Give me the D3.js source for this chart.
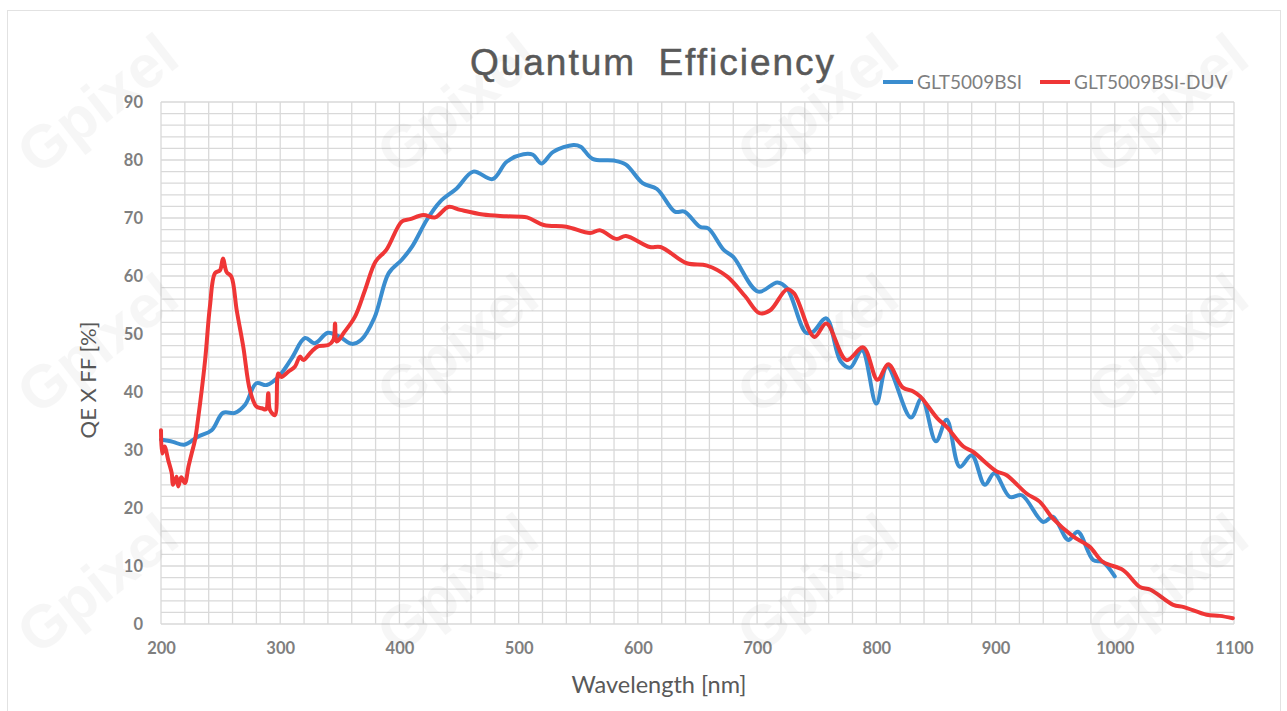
<!DOCTYPE html>
<html>
<head>
<meta charset="utf-8">
<script src="https://cdn.jsdelivr.net/npm/d3@7"></script>
<style>
  body { margin: 0; background: #fff; }
  svg { display: block; }
</style>
</head>
<body>
<div class="canvas"></div>
<script>
// wavelength [nm] and QE x FF [%]
const bsiNm = [200, 210, 219.5, 231, 242.5, 252, 262, 270.5, 280, 288.7, 298.4, 309.6, 320.8, 329, 340, 350, 360, 368,
  379, 391, 402, 411, 423, 434, 448, 462, 478, 490, 504, 512, 519, 529, 546, 552, 562, 580, 590, 604, 616, 631, 639,
  652, 659, 672, 680, 701, 717, 725, 741, 747, 758, 770, 778, 788, 800, 809, 829, 838, 850, 859, 870, 880, 891, 899,
  912, 922, 940, 948, 961, 969, 982, 990, 1000];
const bsiQE = [31.8, 31.4, 30.9, 32.3, 33.4, 36.4, 36.4, 37.8, 41.5, 41.2, 42.6, 45.8, 49.3, 48.4, 50.2, 49.5, 48.3, 49.0,
  52.8, 60.5, 62.8, 65.2, 69.7, 72.8, 75.1, 78.0, 76.7, 79.7, 81.0, 80.9, 79.4, 81.4, 82.6, 82.3, 80.2, 79.9, 79.2, 76.0,
  75.0, 71.1, 71.1, 68.5, 68.2, 64.5, 63.3, 57.3, 58.9, 57.9, 50.2, 50.4, 52.7, 45.3, 44.2, 47.2, 38.0, 44.4, 35.6, 38.9,
  31.5, 35.2, 27.1, 29.1, 24.0, 26.0, 21.9, 22.2, 17.6, 18.5, 14.5, 15.9, 11.0, 10.7, 8.2];

const duvNm = [200, 201, 203, 206, 209, 210, 213, 214.5, 217, 220, 223, 225.7, 228.5, 231, 237, 241, 245.3, 249.5, 252,
  255, 259, 263.5, 269, 274.6, 280, 284.5, 288, 290, 291.4, 295.6, 298.4, 301, 306.8, 312.4, 316.6, 319.4, 326.4, 332,
  340.3, 344.6, 346, 347.4, 354, 362.7, 371, 380, 389, 402, 409, 420, 430, 441, 451, 470, 490, 507, 521, 540, 560, 568,
  582, 590, 610, 619, 641, 658, 675, 690, 702, 711, 725, 731, 748, 758, 775, 789, 801, 810, 822, 831, 837, 851, 859,
  873, 881, 901, 909, 926, 937, 948, 965, 979, 990, 1007, 1021, 1030, 1049, 1058, 1077, 1088, 1099];
const duvQE = [33.4, 29.4, 30.6, 28.3, 26.0, 24.0, 25.4, 23.7, 25.3, 24.3, 27.1, 29.4, 31.7, 35.2, 45.5, 54.7, 60.5, 61.0,
  63.0, 60.7, 59.9, 54.1, 47.8, 40.3, 37.5, 37.2, 37.0, 39.8, 36.9, 36.0, 43.2, 42.6, 43.5, 44.4, 46.1, 45.5, 47.0, 47.9,
  48.1, 49.0, 51.8, 48.7, 50.4, 53.0, 57.5, 62.5, 64.5, 69.4, 69.8, 70.5, 70.1, 71.9, 71.4, 70.6, 70.3, 70.1, 68.8, 68.5,
  67.4, 67.9, 66.4, 66.9, 65.0, 65.0, 62.2, 61.8, 59.9, 56.5, 53.6, 54.1, 57.7, 57.0, 49.5, 51.8, 45.5, 47.7, 42.1, 44.8,
  40.8, 40.1, 39.2, 35.5, 34.0, 30.6, 29.7, 26.3, 25.7, 22.5, 21.1, 18.2, 15.1, 13.3, 10.7, 9.3, 6.4, 5.9, 3.3, 2.9, 1.6,
  1.4, 1.0];

const seriesNames = ['GLT5009BSI', 'GLT5009BSI-DUV'];
const seriesColors = ['#3a8dcf', '#ef3636'];
const xTicks = [200, 300, 400, 500, 600, 700, 800, 900, 1000, 1100];
const yTicks = [0, 10, 20, 30, 40, 50, 60, 70, 80, 90];

const W = 1287, H = 711;
const plot = { left: 161, right: 1234, top: 102, bottom: 624 };

const svg = d3.select('.canvas')
  .append('svg')
  .attr('width', W)
  .attr('height', H);

// outer frame
svg.append('rect')
  .attr('x', 7.5).attr('y', 10.5)
  .attr('width', W - 14).attr('height', H - 10)
  .attr('fill', '#fff')
  .attr('stroke', '#e2e2e2');

const x = d3.scaleLinear().domain([200, 1100]).range([plot.left, plot.right]);
const y = d3.scaleLinear().domain([0, 90]).range([plot.bottom, plot.top]);

// grid: every 20 nm and every 2 %
const grid = svg.append('g').attr('stroke', '#d9d9d9').attr('stroke-width', 1.3);
grid.selectAll('.gx')
  .data(d3.range(200, 1101, 20))
  .join('line')
  .attr('x1', d => x(d)).attr('x2', d => x(d))
  .attr('y1', plot.top).attr('y2', plot.bottom);
grid.selectAll('.gy')
  .data(d3.range(0, 91, 2))
  .join('line')
  .attr('x1', plot.left).attr('x2', plot.right)
  .attr('y1', d => y(d)).attr('y2', d => y(d));

// axes tick labels
const xAxis = svg.append('g')
  .attr('transform', `translate(0, ${plot.bottom + 8})`)
  .call(d3.axisBottom(x).tickValues(xTicks).tickFormat(d3.format('d')).tickSize(0).tickPadding(10));
const yAxis = svg.append('g')
  .attr('transform', `translate(${plot.left - 18}, 0)`)
  .call(d3.axisLeft(y).tickValues(yTicks).tickFormat(d3.format('d')).tickSize(0).tickPadding(0));
[xAxis, yAxis].forEach(a => {
  a.select('.domain').remove();
  a.selectAll('text')
    .attr('fill', '#7f7f7f')
    .style('font-family', 'Lato, "Open Sans", sans-serif')
    .style('font-weight', 'bold')
    .style('font-size', '16.5px');
});

// lines
const line = d3.line()
  .x(d => x(d[0]))
  .y(d => y(d[1]))
  .curve(d3.curveCatmullRom.alpha(0.5));

const series = [
  d3.zip(bsiNm, bsiQE),
  d3.zip(duvNm, duvQE)
];

svg.selectAll('.series')
  .data(series)
  .join('path')
  .attr('class', 'series')
  .attr('d', line)
  .attr('fill', 'none')
  .attr('stroke', (d, i) => seriesColors[i])
  .attr('stroke-width', 4)
  .attr('stroke-linejoin', 'round')
  .attr('stroke-linecap', 'round');

// title
svg.append('text')
  .attr('x', 653).attr('y', 75)
  .attr('text-anchor', 'middle')
  .attr('fill', '#595959')
  .attr('stroke', '#595959')
  .attr('stroke-width', 0.5)
  .style('font-family', '"Liberation Sans", Arial, sans-serif')
  .style('font-size', '37px')
  .style('letter-spacing', '2px')
  .style('word-spacing', '10px')
  .text('Quantum Efficiency');

// axis titles
svg.append('text')
  .attr('x', 659).attr('y', 693)
  .attr('text-anchor', 'middle')
  .attr('fill', '#595959')
  .style('font-family', 'Lato, "Open Sans", sans-serif')
  .style('font-size', '23.5px')
  .text('Wavelength [nm]');

svg.append('text')
  .attr('transform', 'translate(96, 380) rotate(-90)')
  .attr('text-anchor', 'middle')
  .attr('fill', '#595959')
  .style('font-family', 'Lato, "Open Sans", sans-serif')
  .style('font-size', '22px')
  .text('QE X FF [%]');

// legend
const legendX = [883, 1040];
const legend = svg.selectAll('.legend')
  .data(seriesNames)
  .join('g')
  .attr('class', 'legend')
  .attr('transform', (d, i) => `translate(${legendX[i]}, 82)`);
legend.append('line')
  .attr('x1', 0).attr('x2', 30)
  .attr('stroke', (d, i) => seriesColors[i])
  .attr('stroke-width', 4);
legend.append('text')
  .attr('x', 34).attr('y', 7)
  .attr('fill', '#7f7f7f')
  .style('font-family', 'Lato, "Open Sans", sans-serif')
  .style('font-size', '19px')
  .text(d => d);

// faint watermark
const marks = [];
[110, 470, 830, 1180].forEach(cx => {
  [120, 360, 600].forEach(cy => marks.push([cx, cy]));
});
svg.append('g')
  .selectAll('text')
  .data(marks)
  .join('text')
  .attr('transform', d => `translate(${d[0]}, ${d[1]}) rotate(-38)`)
  .attr('text-anchor', 'middle')
  .attr('fill', '#000')
  .attr('opacity', 0.03)
  .style('font-family', '"Liberation Sans", Arial, sans-serif')
  .style('font-weight', 'bold')
  .style('font-size', '60px')
  .text('Gpixel');
</script>
</body>
</html>
